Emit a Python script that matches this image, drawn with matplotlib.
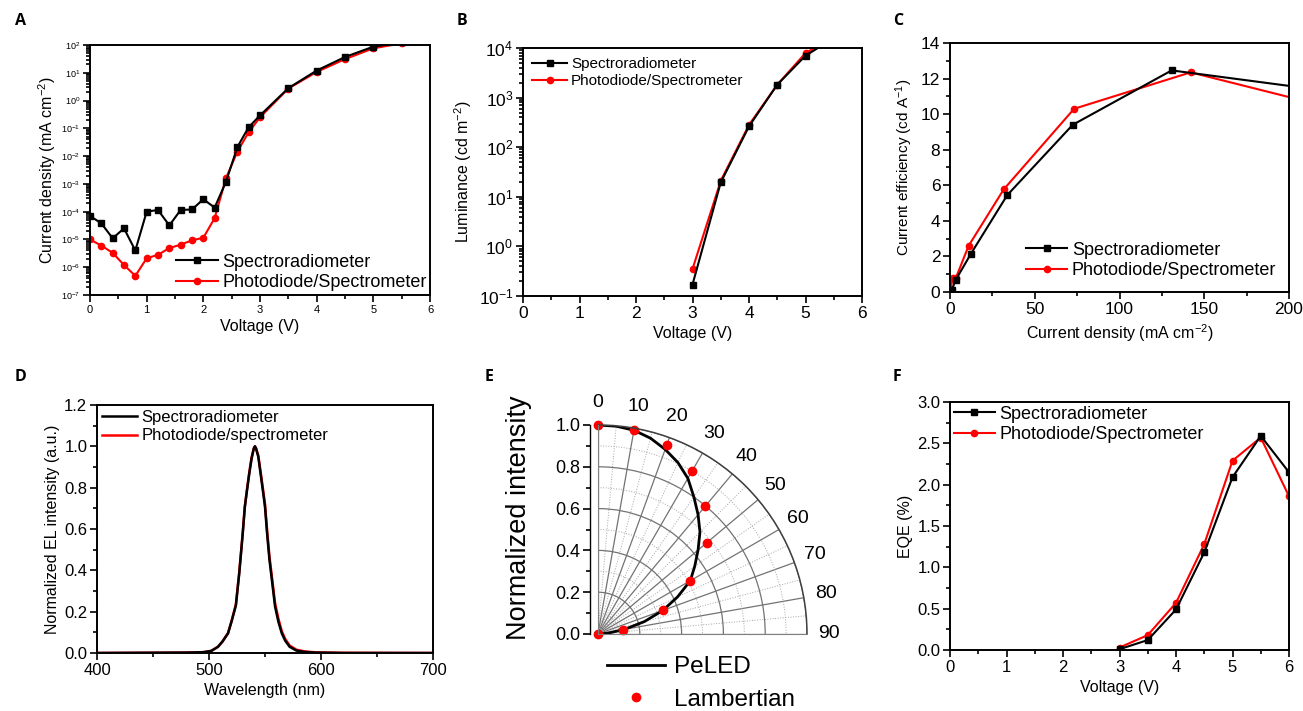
import matplotlib
matplotlib.use("Agg")
import matplotlib.pyplot as plt
import numpy as np
from matplotlib.ticker import MultipleLocator, LogLocator, NullFormatter
from matplotlib.lines import Line2D

plt.rcParams["font.family"] = ["Liberation Sans", "DejaVu Sans"]
plt.rcParams["mathtext.fontset"] = "custom"
plt.rcParams["mathtext.rm"] = "Liberation Sans"
plt.rcParams["mathtext.it"] = "Liberation Sans:italic"
plt.rcParams["mathtext.bf"] = "Liberation Sans:bold"

BLACK = "black"
RED = "#ff0000"
W, H = 1303, 711

# ---------------------------------------------------------------------
# Data
# ---------------------------------------------------------------------

# (A) J-V
a_volt = [0, 0.2, 0.4, 0.6, 0.8, 1.0, 1.2, 1.4, 1.6, 1.8, 2.0, 2.2, 2.4, 2.6, 2.8,
          3.0, 3.5, 4.0, 4.5, 5.0, 5.5]
a_spectro = [7e-5, 3.8e-5, 1.1e-5, 2.5e-5, 4e-6, 1e-4, 1.15e-4, 3.2e-5, 1.15e-4, 1.2e-4,
             2.8e-4, 1.4e-4, 1.2e-3, 2.1e-2, 0.11, 0.29, 2.8, 12, 37, 87, 125]
a_photo = [1e-5, 6e-6, 3.3e-6, 1.2e-6, 4.9e-7, 2.1e-6, 2.8e-6, 4.9e-6, 6.5e-6, 9.3e-6,
           1.15e-5, 5.9e-5, 1.6e-3, 1.45e-2, 7.2e-2, 0.25, 2.7, 10.7, 31, 76, 115]

# (B) L-V
b_volt = [3.0, 3.5, 4.0, 4.5, 5.0, 5.5]
b_spectro = [0.17, 19.5, 263, 1820, 7000, 15800]
b_photo = [0.35, 21, 282, 1820, 7900, 16500]

# (C) CE-J
c_j_spectro = [1.0, 3.5, 12.4, 33.8, 72.4, 130.8, 215]
c_ce_spectro = [0.1, 0.7, 2.16, 5.45, 9.4, 12.46, 11.4]
c_j_photo = [0.3, 1.5, 3.5, 11.0, 31.7, 73.2, 142, 215]
c_ce_photo = [0.05, 0.8, 0.8, 2.6, 5.77, 10.3, 12.35, 10.6]

# (D) EL spectra
d_wl = [400, 480, 495, 502, 508, 512, 517, 520, 524, 527,
        530, 532, 534, 536, 538, 540, 541, 542, 544, 546,
        548, 550, 552, 554, 556, 559, 562, 565, 568, 572,
        578, 585, 595, 620, 700]
d_spectro = [0.0, 0.002, 0.004, 0.01, 0.03, 0.055, 0.095, 0.15, 0.23, 0.385,
             0.57, 0.707, 0.79, 0.87, 0.94, 0.99, 1.0, 0.99, 0.95, 0.87,
             0.79, 0.707, 0.57, 0.45, 0.36, 0.224, 0.15, 0.095, 0.06, 0.03,
             0.012, 0.005, 0.002, 0.0, 0.0]
d_photo = [0.0, 0.002, 0.004, 0.01, 0.03, 0.056, 0.097, 0.152, 0.235, 0.39,
           0.575, 0.71, 0.795, 0.875, 0.945, 0.99, 1.0, 0.99, 0.955, 0.88,
           0.80, 0.72, 0.585, 0.465, 0.375, 0.24, 0.165, 0.105, 0.068, 0.036,
           0.016, 0.008, 0.003, 0.001, 0.0]

# (E) angular profile
e_angle = [0, 5, 10, 15, 20, 25, 30, 35, 40, 45, 50, 55, 60, 65, 70, 75, 80, 85, 90]
e_peled = [1.0, 0.998, 0.99, 0.97, 0.94, 0.905, 0.86, 0.80, 0.745, 0.69, 0.625, 0.565,
           0.51, 0.42, 0.33, 0.23, 0.13, 0.05, 0.0]
e_lamb_angle = [0, 10, 20, 30, 40, 50, 60, 70, 80, 90]
e_lamb = [1.0, 0.99, 0.96, 0.90, 0.80, 0.68, 0.51, 0.33, 0.12, 0.0]

# (F) EQE-V
f_volt = [3.0, 3.5, 4.0, 4.5, 5.0, 5.5, 6.0]
f_spectro = [0.01, 0.12, 0.49, 1.18, 2.09, 2.59, 2.15]
f_photo = [0.03, 0.18, 0.57, 1.28, 2.29, 2.57, 1.86]

LBL_SPEC = "Spectroradiometer"
LBL_PHOTO = "Photodiode/Spectrometer"


def px_axes(fig, x0, y0, x1, y1, **kw):
    """Add axes from pixel box (top-left origin)."""
    return fig.add_axes([x0 / W, 1 - y1 / H, (x1 - x0) / W, (y1 - y0) / H], **kw)


def style(ax, tick_size=12):
    for sp in ax.spines.values():
        sp.set_linewidth(1.4)
    ax.tick_params(which="both", direction="out", top=False, right=False,
                   width=1.2, labelsize=tick_size, pad=2)
    ax.tick_params(which="major", length=5)
    ax.tick_params(which="minor", length=3)


def two_series(ax, x1, y1, x2, y2, marker=True, lw=1.5):
    kw1 = dict(color=BLACK, lw=lw)
    kw2 = dict(color=RED, lw=lw)
    if marker:
        kw1.update(marker="s", ms=4.5)
        kw2.update(marker="o", ms=4.5)
    ax.plot(x2, y2, **kw2)
    ax.plot(x1, y1, **kw1)
    h1 = Line2D([], [], **kw1)
    h2 = Line2D([], [], **kw2)
    return h1, h2


def legend(ax, handles, labels, loc, size, hl, pad, bp=0.4):
    ax.legend(handles, labels, loc=loc, frameon=False, fontsize=size,
              handlelength=hl, handletextpad=0.25, labelspacing=0.2,
              borderaxespad=pad, borderpad=bp)


fig = plt.figure(figsize=(W / 100, H / 100), dpi=100)

# ---------------------------------------------------------------------
# A
# ---------------------------------------------------------------------
ax = px_axes(fig, 90, 45, 430, 295)
h1, h2 = two_series(ax, a_volt, a_spectro, a_volt, a_photo)
ax.set_yscale("log")
ax.set_xlim(0, 6)
ax.set_ylim(1e-7, 1e2)
ax.yaxis.set_major_locator(LogLocator(base=10, numticks=20))
ax.yaxis.set_minor_locator(LogLocator(base=10, subs=np.arange(2, 10), numticks=20))
ax.yaxis.set_minor_formatter(NullFormatter())
ax.xaxis.set_major_locator(MultipleLocator(1))
ax.xaxis.set_minor_locator(MultipleLocator(0.5))
style(ax, 8)
ax.tick_params(axis="y", labelsize=6.5)
ax.set_xlabel("Voltage (V)", fontsize=11.5, labelpad=3)
ax.set_ylabel("Current density (mA cm$^{-2}$)", fontsize=11.5, labelpad=2)
legend(ax, [h1, h2], [LBL_SPEC, LBL_PHOTO], "lower right", 13, 2.3, 0.1, 0.1)

# ---------------------------------------------------------------------
# B
# ---------------------------------------------------------------------
ax = px_axes(fig, 523, 48, 862, 296)
h1, h2 = two_series(ax, b_volt, b_spectro, b_volt, b_photo)
ax.set_yscale("log")
ax.set_xlim(0, 6)
ax.set_ylim(1e-1, 1e4)
ax.yaxis.set_minor_locator(LogLocator(base=10, subs=np.arange(2, 10), numticks=20))
ax.yaxis.set_minor_formatter(NullFormatter())
ax.xaxis.set_major_locator(MultipleLocator(1))
ax.xaxis.set_minor_locator(MultipleLocator(0.5))
style(ax, 12.5)
ax.set_xlabel("Voltage (V)", fontsize=11.5, labelpad=4)
ax.set_ylabel("Luminance (cd m$^{-2}$)", fontsize=11.5, labelpad=3)
legend(ax, [h1, h2], [LBL_SPEC, LBL_PHOTO], "upper left", 11, 2.3, 0.2)

# ---------------------------------------------------------------------
# C
# ---------------------------------------------------------------------
ax = px_axes(fig, 950, 43, 1289, 292)
h1, h2 = two_series(ax, c_j_spectro, c_ce_spectro, c_j_photo, c_ce_photo)
ax.set_xlim(0, 200)
ax.set_ylim(0, 14)
ax.xaxis.set_major_locator(MultipleLocator(50))
ax.xaxis.set_minor_locator(MultipleLocator(25))
ax.yaxis.set_major_locator(MultipleLocator(2))
ax.yaxis.set_minor_locator(MultipleLocator(1))
style(ax, 12.5)
ax.set_xlabel("Current density (mA cm$^{-2}$)", fontsize=11.5, labelpad=4)
ax.set_ylabel("Current efficiency (cd A$^{-1}$)", fontsize=11, labelpad=4)
legend(ax, [h1, h2], [LBL_SPEC, LBL_PHOTO], "lower right", 13, 2.3, 0.3)

# ---------------------------------------------------------------------
# D
# ---------------------------------------------------------------------
ax = px_axes(fig, 97, 405, 433, 653)
h1, h2 = two_series(ax, d_wl, d_spectro, d_wl, d_photo, marker=False, lw=1.8)
ax.set_xlim(400, 700)
ax.set_ylim(0, 1.2)
ax.xaxis.set_major_locator(MultipleLocator(100))
ax.xaxis.set_minor_locator(MultipleLocator(50))
ax.yaxis.set_major_locator(MultipleLocator(0.2))
ax.yaxis.set_minor_locator(MultipleLocator(0.1))
ax.yaxis.set_major_formatter(matplotlib.ticker.FormatStrFormatter("%.1f"))
style(ax, 12)
ax.set_xlabel("Wavelength (nm)", fontsize=11.5, labelpad=4)
ax.set_ylabel("Normalized EL intensity (a.u.)", fontsize=11.5, labelpad=3)
legend(ax, [h1, h2], [LBL_SPEC, "Photodiode/spectrometer"], "upper left", 12, 2.1,
       0.1, 0.2)

# ---------------------------------------------------------------------
# E (polar quarter)
# ---------------------------------------------------------------------
R = 209
ox, oy = 598, 634
axp = px_axes(fig, ox, oy - R, ox + R, oy, projection="polar")
axp.set_theta_zero_location("N")
axp.set_theta_direction(-1)
axp.set_thetamin(0)
axp.set_thetamax(90)
axp.set_ylim(0, 1)
axp.plot(np.deg2rad(e_angle), e_peled, color=BLACK, lw=2)
axp.plot(np.deg2rad(e_lamb_angle), e_lamb, "o", color=RED, ms=6, clip_on=False)
axp.set_xticks(np.deg2rad(e_lamb_angle))
axp.set_xticklabels([str(a) for a in e_lamb_angle], fontsize=14)
axp.set_xticks(np.deg2rad(np.arange(5, 90, 10)), minor=True)
axp.set_yticks([0.2, 0.4, 0.6, 0.8, 1.0])
axp.set_yticks([0.1, 0.3, 0.5, 0.7, 0.9], minor=True)
axp.set_yticklabels([])
axp.tick_params(axis="x", which="both", length=0, pad=9)
axp.tick_params(axis="y", which="both", length=0)
axp.grid(which="major", color="0.45", lw=0.9, ls="-")
axp.grid(which="minor", color="0.65", lw=0.7, ls=":")
axp.spines["polar"].set_color("0.25")
axp.spines["polar"].set_linewidth(1.1)
for name in ("start", "end"):
    axp.spines[name].set_color("0.5")
    axp.spines[name].set_linewidth(0.8)
axp.spines["inner"].set_visible(False)

axl = px_axes(fig, 590, oy - R, 592, oy)
axl.set_ylim(0, 1)
axl.set_xticks([])
axl.yaxis.set_major_locator(MultipleLocator(0.2))
axl.yaxis.set_minor_locator(MultipleLocator(0.1))
axl.yaxis.set_major_formatter(matplotlib.ticker.FormatStrFormatter("%.1f"))
for name in ("top", "right", "bottom"):
    axl.spines[name].set_visible(False)
axl.patch.set_visible(False)
style(axl, 13)
axl.spines["left"].set_linewidth(1.0)
axl.set_ylabel("Normalized intensity", fontsize=19.5)
axl.yaxis.set_label_coords(532 / W, 1 - 518 / H, transform=fig.transFigure)

e_handles = [Line2D([], [], color=BLACK, lw=2),
             Line2D([], [], color=RED, marker="o", ls="none", ms=6)]
fig.legend(e_handles, ["PeLED", "Lambertian"], loc="upper left",
           bbox_to_anchor=(607 / W, 1 - 656 / H), frameon=False, fontsize=17.5,
           handlelength=2.4, handletextpad=0.35, labelspacing=0.45,
           borderaxespad=0, borderpad=0)

# ---------------------------------------------------------------------
# F
# ---------------------------------------------------------------------
ax = px_axes(fig, 950, 402, 1289, 650)
h1, h2 = two_series(ax, f_volt, f_spectro, f_volt, f_photo)
ax.set_xlim(0, 6)
ax.set_ylim(0, 3)
ax.xaxis.set_major_locator(MultipleLocator(1))
ax.xaxis.set_minor_locator(MultipleLocator(0.5))
ax.yaxis.set_major_locator(MultipleLocator(0.5))
ax.yaxis.set_minor_locator(MultipleLocator(0.25))
ax.yaxis.set_major_formatter(matplotlib.ticker.FormatStrFormatter("%.1f"))
style(ax, 12)
ax.set_xlabel("Voltage (V)", fontsize=11.5, labelpad=4)
ax.set_ylabel("EQE (%)", fontsize=11.5, labelpad=3)
legend(ax, [h1, h2], [LBL_SPEC, LBL_PHOTO], "upper left", 13, 2.3, 0.0, 0.2)

# panel letters
for letter, (x, y) in {"A": (15, 21), "B": (457, 21), "C": (893, 21),
                       "D": (15, 377), "E": (485, 377), "F": (893, 377)}.items():
    fig.text(x / W, 1 - y / H, letter, fontsize=11.5, fontweight="bold",
             family=["Open Sans", "DejaVu Sans"], va="center", ha="left")

fig.savefig("out.png", dpi=100)
